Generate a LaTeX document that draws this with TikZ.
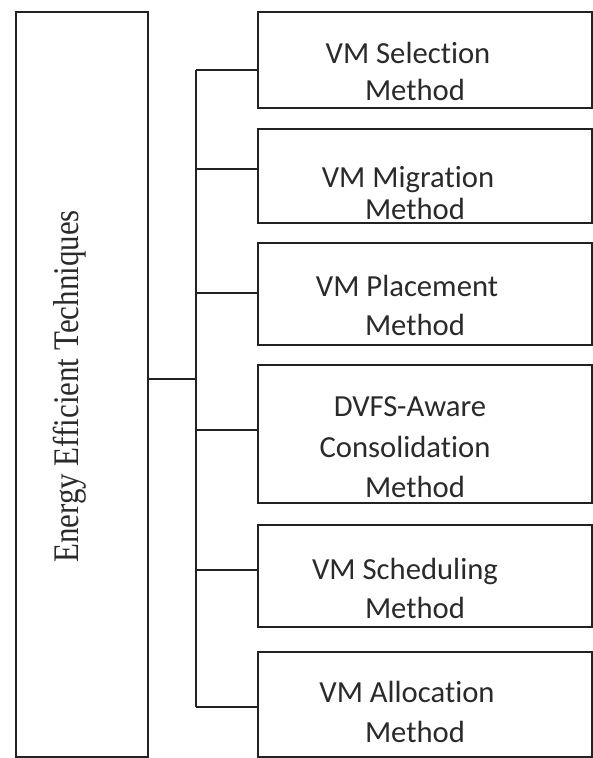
\documentclass[tikz,border=0pt]{standalone}
\usepackage{fontspec}
\setmainfont{Liberation Serif}
\newfontfamily\calib[Ligatures=NoCommon]{Carlito}
\definecolor{ln}{HTML}{222222}
\definecolor{tx}{HTML}{2A2A2A}
\tikzset{
  box/.style={draw=ln, line width=1.4pt, rectangle, inner sep=0pt, outer sep=0pt, minimum width=250.5pt},
  lbl/.style={anchor=base, inner sep=0pt, text=tx, font=\calib\fontsize{23}{28}\selectfont},
  conn/.style={draw=ln, line width=1.4pt}
}
\begin{document}
\begin{tikzpicture}[x=0.75pt, y=-0.75pt]
\useasboundingbox (0,0) rectangle (593,758);
% left box
\node[box, minimum width=99pt, minimum height=558.75pt] (L) at (82,384.5) {};
\node[anchor=base, rotate=90, inner sep=0pt, text=tx] (Lt) at (79,386.5)
  {\scalebox{0.86}[1]{\fontsize{27}{32}\selectfont Energy Efficient Techniques}};
% right boxes
\node[box, minimum height=72pt]    (b1) at (425,60) {};
\node[box, minimum height=70.5pt]  (b2) at (425,176) {};
\node[box, minimum height=76.5pt]  (b3) at (425,294) {};
\node[box, minimum height=103.5pt] (b4) at (425,434) {};
\node[box, minimum height=76.5pt]  (b5) at (425,576) {};
\node[box, minimum height=78.75pt] (b6) at (425,704.5) {};
% labels
\node[lbl] (t1a) at (408,63) {VM Selection};
\node[lbl] (t1b) at (415,100) {Method};
\node[lbl] (t2a) at (408,187) {VM Migration};
\node[lbl] (t2b) at (415,219) {Method};
\node[lbl] (t3a) at (407,296) {VM Placement};
\node[lbl] (t3b) at (415,335) {Method};
\node[lbl] (t4a) at (410,416) {DVFS-Aware};
\node[lbl] (t4b) at (405,457) {Consolidation};
\node[lbl] (t4c) at (415,497) {Method};
\node[lbl] (t5a) at (405,579) {VM Scheduling};
\node[lbl] (t5b) at (415,618) {Method};
\node[lbl] (t6a) at (407,702) {VM Allocation};
\node[lbl] (t6b) at (415,742) {Method};
% connectors
\coordinate (m) at (196,379);
\coordinate (j1) at (196,70);
\coordinate (j2) at (196,169);
\coordinate (j3) at (196,293);
\coordinate (j4) at (196,430);
\coordinate (j5) at (196,570);
\coordinate (j6) at (196,707);
\draw[conn] (L.east |- m) -- (m);
\draw[conn] (j1) -- (j6);
\draw[conn] (j1) -- (j1 -| b1.west);
\draw[conn] (j2) -- (j2 -| b2.west);
\draw[conn] (j3) -- (j3 -| b3.west);
\draw[conn] (j4) -- (j4 -| b4.west);
\draw[conn] (j5) -- (j5 -| b5.west);
\draw[conn] (j6) -- (j6 -| b6.west);
\end{tikzpicture}
\end{document}
